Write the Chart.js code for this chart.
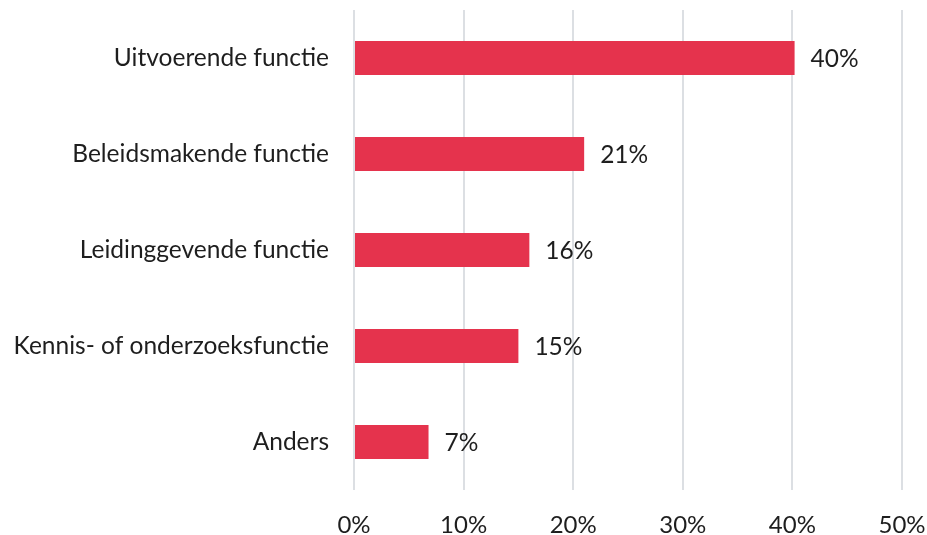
<!DOCTYPE html>
<html>
<head>
<meta charset="utf-8">
<script src="https://cdn.jsdelivr.net/npm/chart.js@4.4.0/dist/chart.umd.min.js"></script>
<style>
  html, body { margin: 0; padding: 0; background: #fff; }
  #wrap { width: 927px; height: 535px; position: relative; }
</style>
</head>
<body>
<div id="wrap"><canvas id="chart"></canvas></div>
<script>
// data
const categories = [
    'Uitvoerende functie',
    'Beleidsmakende functie',
    'Leidinggevende functie',
    'Kennis- of onderzoeksfunctie',
    'Anders'
];
const shares = [40.2, 21.0, 16.0, 15.0, 6.8];
const xTicks = [0, 10, 20, 30, 40, 50];

const FONT = 'Lato, "Noto Sans", sans-serif';
const TEXT = '#1e1e1e';

// draws "40%" etc. right of each bar
const valueLabels = {
    id: 'valueLabels',
    afterDatasetsDraw(chart) {
        const ctx = chart.ctx;
        const meta = chart.getDatasetMeta(0);
        ctx.save();
        ctx.font = '24.5px ' + FONT;
        ctx.fillStyle = TEXT;
        ctx.textAlign = 'left';
        ctx.textBaseline = 'middle';
        meta.data.forEach((bar, i) => {
            ctx.fillText(Math.round(shares[i]) + '%', bar.x + 16, bar.y + 1);
        });
        ctx.restore();
    }
};

new Chart(document.getElementById('chart'), {
    type: 'bar',
    data: {
        labels: categories,
        datasets: [{
            data: shares,
            backgroundColor: '#e5334d',
            borderWidth: 0,
            barPercentage: 0.354,
            categoryPercentage: 1
        }]
    },
    options: {
        indexAxis: 'y',
        responsive: true,
        maintainAspectRatio: false,
        animation: false,
        layout: { padding: { top: 10, right: 25, left: 0, bottom: 0 } },
        plugins: {
            legend: { display: false },
            tooltip: { enabled: false }
        },
        scales: {
            x: {
                min: 0,
                max: 50,
                afterBuildTicks(scale) {
                    scale.ticks = xTicks.map(v => ({ value: v }));
                },
                afterFit(scale) {
                    scale.height = 45;
                    scale.paddingLeft = 0;
                    scale.paddingRight = 0;
                },
                border: { display: false },
                grid: { color: '#dcdfe3', lineWidth: 2, drawTicks: false },
                ticks: {
                    padding: 21,
                    color: TEXT,
                    font: { family: FONT, size: 24 },
                    callback: v => v + '%'
                }
            },
            y: {
                afterFit(scale) {
                    scale.width = 354;
                    scale.paddingTop = 0;
                    scale.paddingBottom = 0;
                },
                border: { display: false },
                grid: { display: false, drawTicks: false },
                ticks: {
                    padding: 25,
                    color: TEXT,
                    font: { family: FONT, size: 24.5 }
                }
            }
        }
    },
    plugins: [valueLabels]
});
</script>
</body>
</html>
